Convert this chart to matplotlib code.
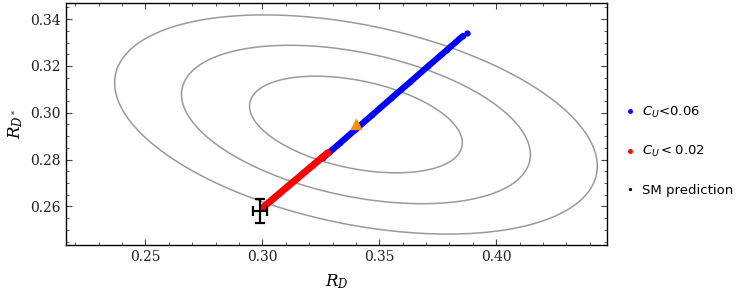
import numpy as np
import matplotlib
matplotlib.use('Agg')
import matplotlib.pyplot as plt
from matplotlib.font_manager import FontProperties
from matplotlib.ticker import MultipleLocator

# experimental average (R_D, R_D*), errors and correlation
exp_center = [0.340, 0.295]
exp_sigma = [0.030, 0.0136]
exp_rho = -0.38
chi2_levels = [2.30, 6.18, 11.83]

# SM prediction with errors
sm_x, sm_xerr = 0.299, 0.003
sm_y, sm_yerr = 0.258, 0.005

# allowed points, C_U < 0.06
blue_x = [0.326, 0.333, 0.340, 0.347, 0.355, 0.363, 0.371, 0.379, 0.3857]
blue_y = [0.2808, 0.2869, 0.2930, 0.2991, 0.3061, 0.3130, 0.3200, 0.3269, 0.3328]
blue_extra_x = [0.3874]
blue_extra_y = [0.3341]

# allowed points, C_U < 0.02
red_x = [0.3005, 0.307, 0.314, 0.321, 0.328]
red_y = [0.2598, 0.2653, 0.2712, 0.2771, 0.2830]

fig = plt.figure(figsize=(7.41, 2.99), dpi=100)
ax = fig.add_axes([0.089, 0.181, 0.730, 0.810])

#chi2 contours of the measurement
gx = np.linspace(0.21, 0.45, 400)
gy = np.linspace(0.24, 0.35, 400)
X, Y = np.meshgrid(gx, gy)
dx = (X - exp_center[0]) / exp_sigma[0]
dy = (Y - exp_center[1]) / exp_sigma[1]
chi2 = (dx**2 + dy**2 - 2*exp_rho*dx*dy) / (1 - exp_rho**2)
ax.contour(X, Y, chi2, levels=chi2_levels, colors='#9a9a9a', linewidths=1.1)

ax.plot(blue_x, blue_y, '-o', color='blue', lw=4.5, ms=3, solid_capstyle='round')
ax.plot(blue_extra_x, blue_extra_y, 'o', color='blue', ms=3.5)
ax.plot(red_x, red_y, '-o', color='red', lw=5, ms=3, solid_capstyle='round')

ax.plot(exp_center[0], exp_center[1], '^', color='#ff8c10', ms=7, zorder=5)

ax.errorbar(sm_x, sm_y, xerr=sm_xerr, yerr=sm_yerr, fmt='none', ecolor='black',
            elinewidth=1.6, capsize=3.5, capthick=1.6, zorder=6)

ax.set_xlim(0.216, 0.4473)
ax.set_ylim(0.2436, 0.347)
ax.xaxis.set_major_locator(MultipleLocator(0.05))
ax.xaxis.set_minor_locator(MultipleLocator(0.01))
ax.yaxis.set_major_locator(MultipleLocator(0.02))
ax.yaxis.set_minor_locator(MultipleLocator(0.005))
ax.tick_params(which='both', direction='in', top=True, right=True, colors='#444444',
               labelcolor='#222222')
ax.tick_params(which='major', length=4, width=0.8)
ax.tick_params(which='minor', length=2, width=0.6)
for lab in ax.get_xticklabels() + ax.get_yticklabels():
    lab.set_family('DejaVu Serif')
    lab.set_fontsize(10)
ax.xaxis.set_major_formatter(plt.FormatStrFormatter('%.2f'))
ax.yaxis.set_major_formatter(plt.FormatStrFormatter('%.2f'))
for s in ax.spines.values():
    s.set_linewidth(1.0)

ax.set_xlabel('$R_D$', fontsize=12, math_fontfamily='dejavuserif', labelpad=6)
ax.set_ylabel('$R_{D^*}$', fontsize=12, math_fontfamily='dejavuserif', labelpad=4)

h1, = ax.plot([], [], 'o', color='blue', ms=2.5)
h2, = ax.plot([], [], 'o', color='red', ms=2.5)
h3, = ax.plot([], [], 'o', color='black', ms=1.3)
fig.legend([h1, h2, h3], ['$C_U$<0.06', '$C_U < 0.02$', 'SM prediction'],
           loc='center left', bbox_to_anchor=(0.843, 0.496), frameon=False,
           prop=FontProperties(family='DejaVu Sans', size=9.5),
           handlelength=0.8, handletextpad=0.5, labelspacing=1.85,
           borderpad=0, borderaxespad=0)

plt.savefig('out.png', dpi=100)
